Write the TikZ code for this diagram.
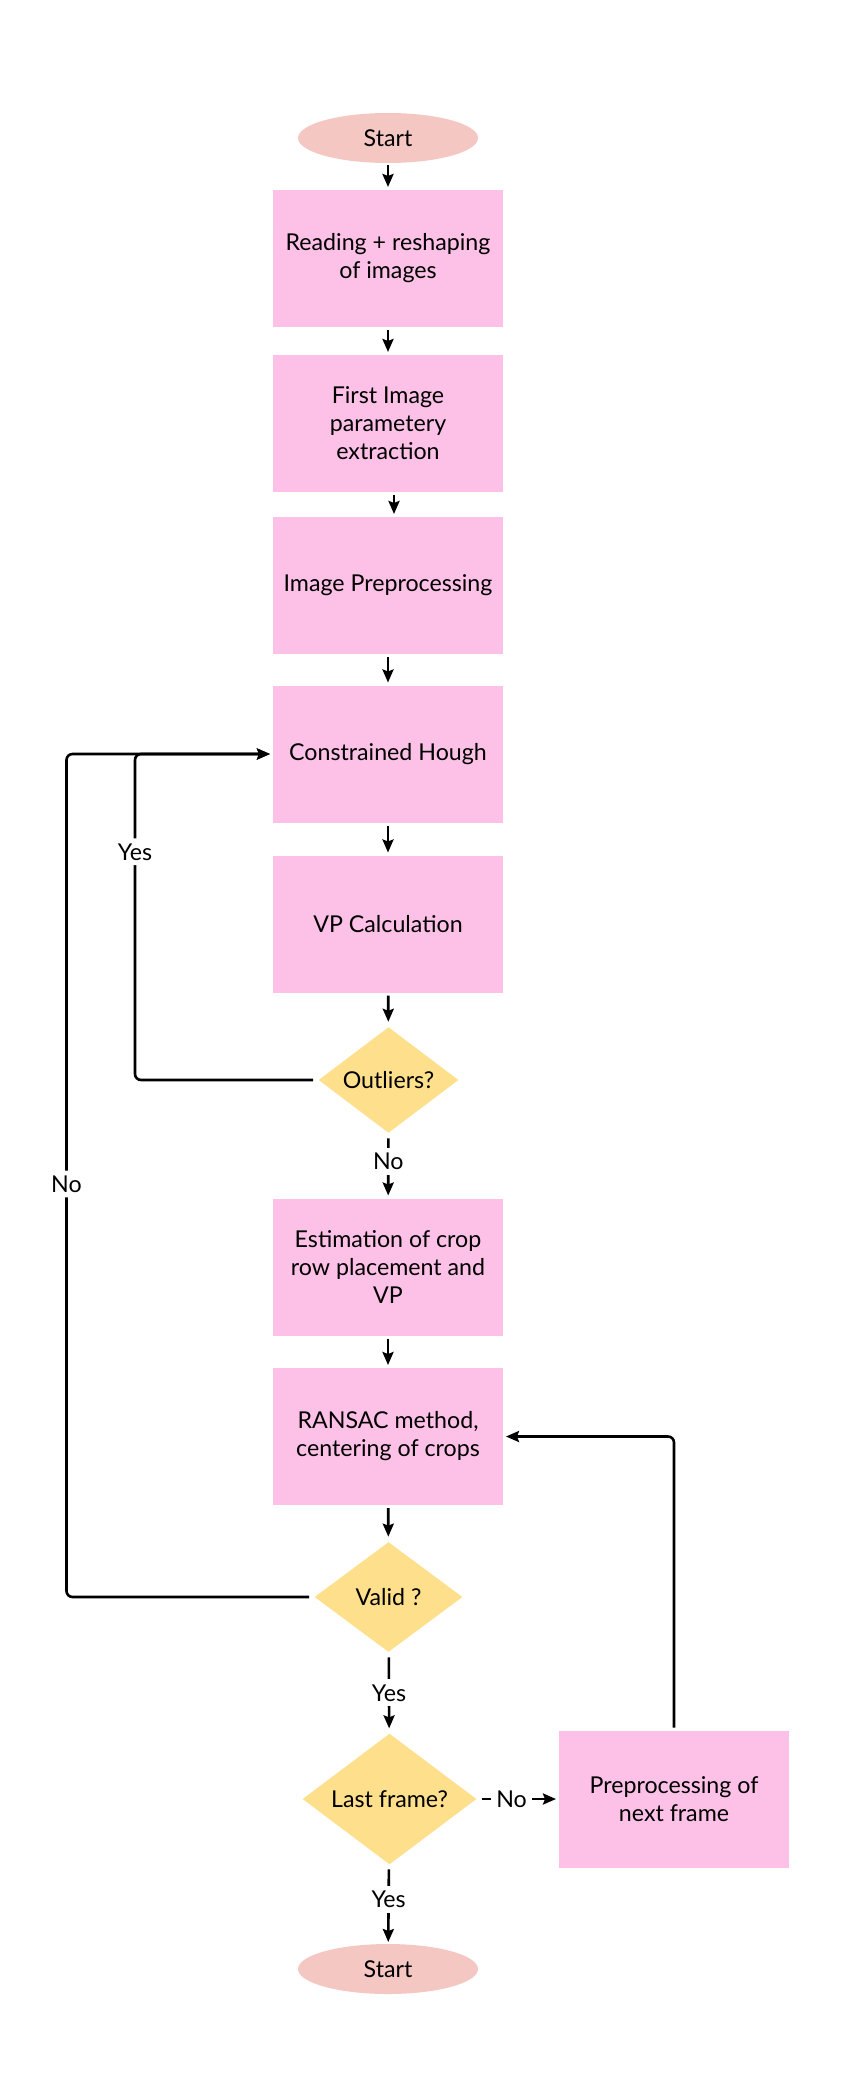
\documentclass[tikz,border=0pt]{standalone}
\usepackage{fontspec}
\setmainfont{Lato}
\usetikzlibrary{shapes.geometric,arrows.meta}
\definecolor{boxpink}{HTML}{FDC1E7}
\definecolor{endred}{HTML}{F4C7C3}
\definecolor{askyellow}{HTML}{FDDF8C}
\begin{document}
\begin{tikzpicture}[x=0.5pt,y=-0.5pt,
    font=\fontsize{11.6}{14}\selectfont,
    stepbox/.style={rectangle,fill=boxpink,minimum width=115pt,minimum height=68.5pt,
      align=center,inner sep=2pt,outer sep=1.5pt},
    ends/.style={ellipse,fill=endred,minimum width=90pt,minimum height=25pt,inner sep=0pt,outer sep=1pt},
    ask/.style={diamond,fill=askyellow,inner sep=0pt,outer sep=2pt},
    lbl/.style={fill=white,inner sep=2.5pt},
    flow/.style={line width=1.3pt,-{Stealth[length=6.5pt,width=5.5pt,inset=1pt]}},
    back/.style={flow,rounded corners=3pt}]
  \useasboundingbox (0,0) rectangle (860,2076);

  % main column
  \node[ends] (start) at (388,138) {Start};
  \node[stepbox] (read) at (388,258.5) {Reading + reshaping\\of images};
  \node[stepbox] (param) at (388,423.5) {First Image\\parametery\\extraction};
  \node[stepbox] (preproc) at (388,585.5) {Image Preprocessing};
  \node[stepbox] (hough) at (388,754) {Constrained Hough};
  \node[stepbox] (vp) at (388,924) {VP Calculation};
  \node[ask,minimum width=71.5pt,minimum height=53pt] (outl) at (388.5,1080) {Outliers?};
  \node[stepbox] (est) at (388,1267) {Estimation of crop\\row placement and\\VP};
  \node[stepbox] (ransac) at (388,1436.5) {RANSAC method,\\centering of crops};
  \node[ask,minimum width=75.5pt,minimum height=56.5pt] (valid) at (388.5,1597) {Valid ?};
  \node[ask,minimum width=88.5pt,minimum height=66.5pt] (last) at (389.5,1799) {Last frame?};
  \node[stepbox] (next) at (674,1799) {Preprocessing of\\next frame};
  \node[ends] (stop) at (388,1969) {Start};

  \draw[flow] (start) -- (read);
  \draw[flow] (read) -- (param);
  \draw[flow] ([xshift=3pt]param.south) -- ([xshift=3pt]preproc.north);
  \draw[flow] (preproc) -- (hough);
  \draw[flow] (hough) -- (vp);
  \draw[flow] (vp) -- (outl);
  \draw[flow] (outl) -- node[lbl,pos=0.4] {No} (est);
  \draw[flow] (est) -- (ransac);
  \draw[flow] (ransac) -- (valid);
  \draw[flow] (valid) -- node[lbl] {Yes} (last);
  \draw[flow] (last) -- node[lbl,pos=0.41] {Yes} (stop);
  \draw[flow] (last) -- node[lbl,pos=0.4] {No} (next);

  % loops back
  \draw[back] (outl.west) -- ++(-178,0) |- node[lbl,pos=0.35] {Yes} (hough.west);
  \draw[back] (valid.west) -- ++(-242.5,0) |- node[lbl,pos=0.245] {No} (hough.west);
  \draw[back] (next.north) |- (ransac.east);
\end{tikzpicture}
\end{document}
